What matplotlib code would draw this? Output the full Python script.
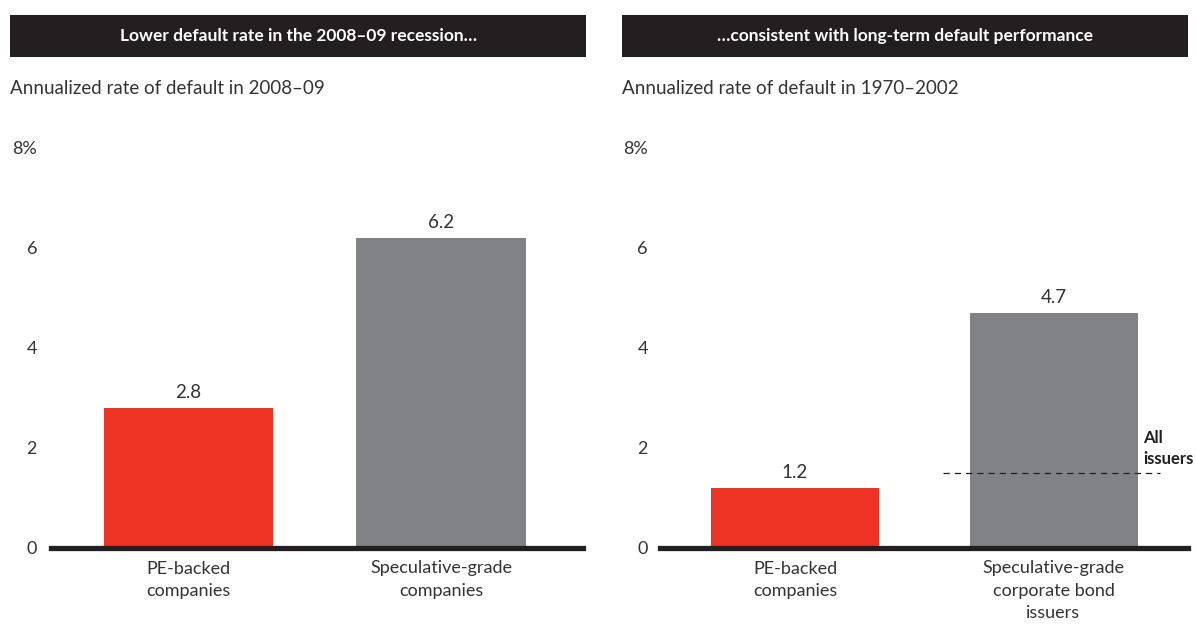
import matplotlib
matplotlib.use("Agg")
import matplotlib.pyplot as plt
from matplotlib.patches import Rectangle

plt.rcParams['font.family'] = ['Lato', 'DejaVu Sans']

titles = ["Lower default rate in the 2008\u201309 recession\u2026",
          "\u2026consistent with long-term default performance"]
subtitles = ["Annualized rate of default in 2008\u201309",
             "Annualized rate of default in 1970\u20132002"]
cats_left = ["PE-backed\ncompanies", "Speculative-grade\ncompanies"]
cats_right = ["PE-backed\ncompanies", "Speculative-grade\ncorporate bond\nissuers"]
vals_left = [2.8, 6.2]
vals_right = [1.2, 4.7]
all_issuers = 1.5
yticks = [0, 2, 4, 6, 8]
yticklabels = ["0", "2", "4", "6", "8%"]

RED = "#EE3224"
GRAY = "#818285"
DARK = "#231F20"
TXT = "#333333"

W, H = 1196, 624
fig = plt.figure(figsize=(W / 100, H / 100), dpi=100)

def fx(px):
    return px / W

def fy(py):
    return 1 - py / H

panels = [
    dict(x0=51, x1=583, hdr=(10, 586), cats=cats_left, vals=vals_left,
         xlim=(-0.544, 1.562), width=0.67, pad=14, title=titles[0], sub=subtitles[0]),
    dict(x0=660, x1=1188, hdr=(622, 1188), cats=cats_right, vals=vals_right,
         xlim=(-0.522, 1.520), width=0.65, pad=12, title=titles[1], sub=subtitles[1]),
]

axes = []
for i, p in enumerate(panels):
    # header bar
    fig.patches.append(Rectangle((fx(p['hdr'][0]), fy(57)), fx(p['hdr'][1] - p['hdr'][0]),
                                 (57 - 15) / H, transform=fig.transFigure,
                                 facecolor=DARK, edgecolor='none'))
    fig.text(fx((p['hdr'][0] + p['hdr'][1]) / 2), fy(36), p['title'], color='white',
             fontsize=12.5, fontweight='bold', ha='center', va='center')
    fig.text(fx(p['hdr'][0]), fy(89), p['sub'], color=TXT, fontsize=13.5,
             ha='left', va='center')

    ax = fig.add_axes([fx(p['x0']), fy(548), fx(p['x1'] - p['x0']), (548 - 148) / H])
    axes.append(ax)
    xs = list(range(len(p['vals'])))
    ax.bar(xs, p['vals'], width=p['width'], color=[RED, GRAY], zorder=2)
    for x, v in zip(xs, p['vals']):
        ax.annotate(f"{v:.1f}", (x, v), xytext=(0, 5), textcoords='offset points',
                    ha='center', va='bottom', fontsize=13.5, color=TXT)
    ax.set_xlim(*p['xlim'])
    ax.set_ylim(0, 8)
    ax.set_yticks(yticks)
    ax.set_yticklabels(yticklabels)
    ax.set_xticks(xs)
    ax.set_xticklabels(p['cats'], fontsize=13, color=TXT, linespacing=1.5)
    ax.tick_params(axis='x', length=0, pad=9)
    ax.tick_params(axis='y', length=0, pad=p['pad'] * 0.72, labelsize=13, labelcolor=TXT)
    for s in ['top', 'right', 'left']:
        ax.spines[s].set_visible(False)
    ax.spines['bottom'].set_linewidth(3.8)
    ax.spines['bottom'].set_color(DARK)
    ax.spines['bottom'].set_zorder(3)
    ax.patch.set_alpha(0)

# dashed "All issuers" reference line on right panel
axr = axes[1]
axr.hlines(all_issuers, 0.5725, 1.412, colors=DARK, linestyles=(0, (5, 4)), linewidth=0.9, zorder=3)
axr.annotate("All\nissuers", (1.346, all_issuers), xytext=(0, 4), textcoords='offset points',
             ha='left', va='bottom', fontsize=12, fontweight='bold', color=DARK,
             linespacing=1.45, annotation_clip=False)

fig.savefig("out.png", dpi=100)
